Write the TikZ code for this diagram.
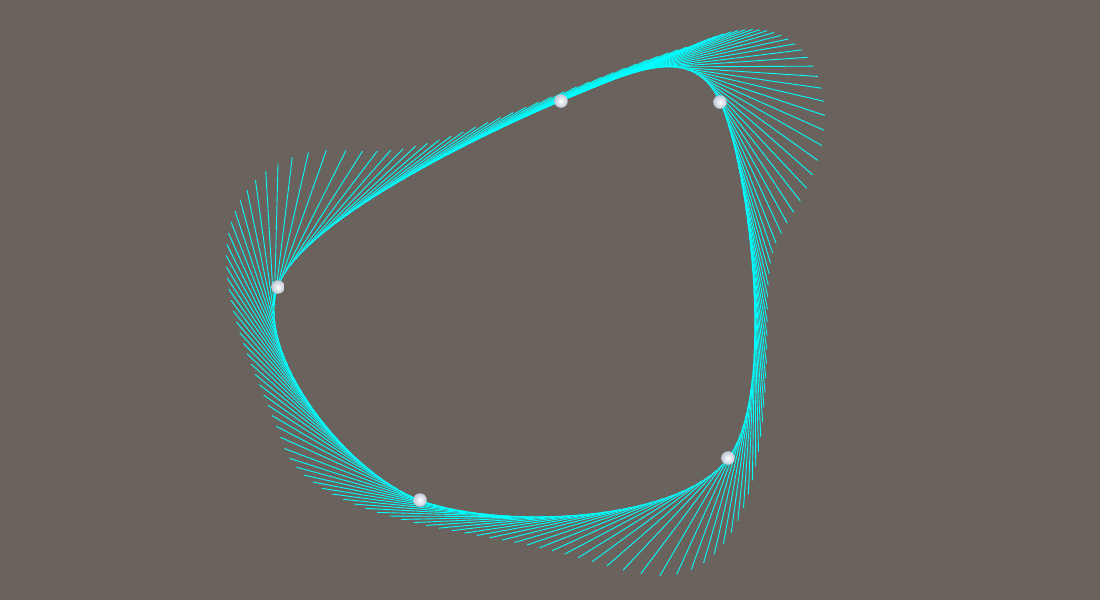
\documentclass[tikz,border=0pt]{standalone}
\usepackage{xcolor}
\usepackage{tikz}
\usetikzlibrary{calc}

\definecolor{groundgray}{RGB}{106,99,93}
\definecolor{rayblue}{RGB}{0,255,255}
\definecolor{knotshade}{RGB}{190,200,215}

\begin{document}
\begin{tikzpicture}[x=0.02cm, y=-0.02cm,
        tangent/.style={draw=rayblue, line width=0.5pt},
        knot/.style={circle, inner sep=0pt, minimum size=0.27cm, inner color=white, outer color=knotshade}]

        % Background
        \fill[groundgray] (0,0) rectangle (1100,600);
        \useasboundingbox (0,0) rectangle (1100,600);

        % Control points
        \coordinate (p0) at (278,287);
        \coordinate (p1) at (561,101);
        \coordinate (p2) at (720,102);
        \coordinate (p3) at (728,458);
        \coordinate (p4) at (420,500);

        % Tangent rays along the closed spline
        \foreach \a/\b/\c/\d in {p4/p0/p1/p2, p0/p1/p2/p3, p1/p2/p3/p4, p2/p3/p4/p0, p3/p4/p0/p1} {
            \foreach \k in {0,...,29} {
                \pgfmathsetmacro\t{\k/30}
                \pgfmathsetmacro\ca{0.5*(-\t+2*\t*\t-\t*\t*\t)}
                \pgfmathsetmacro\cb{0.5*(2-5*\t*\t+3*\t*\t*\t)}
                \pgfmathsetmacro\cc{0.5*(\t+4*\t*\t-3*\t*\t*\t)}
                \pgfmathsetmacro\cd{0.5*(-\t*\t+\t*\t*\t)}
                \pgfmathsetmacro\qa{\ca+0.05*(-1+4*\t-3*\t*\t)}
                \pgfmathsetmacro\qb{\cb+0.05*(-10*\t+9*\t*\t)}
                \pgfmathsetmacro\qc{\cc+0.05*(1+8*\t-9*\t*\t)}
                \pgfmathsetmacro\qd{\cd+0.05*(-2*\t+3*\t*\t)}
                \coordinate (s) at ($ {\ca}*(\a) + {\cb}*(\b) + {\cc}*(\c) + {\cd}*(\d) $);
                \coordinate (q) at ($ {\qa}*(\a) + {\qb}*(\b) + {\qc}*(\c) + {\qd}*(\d) $);
                \draw[tangent] (s) -- ($(s)!2.9cm!(q)$);
            }
        }

        % Spheres
        \foreach \p in {p0, p1, p2, p3, p4}
            \node[knot] (\p ball) at (\p) {};

    \end{tikzpicture}
\end{document}
